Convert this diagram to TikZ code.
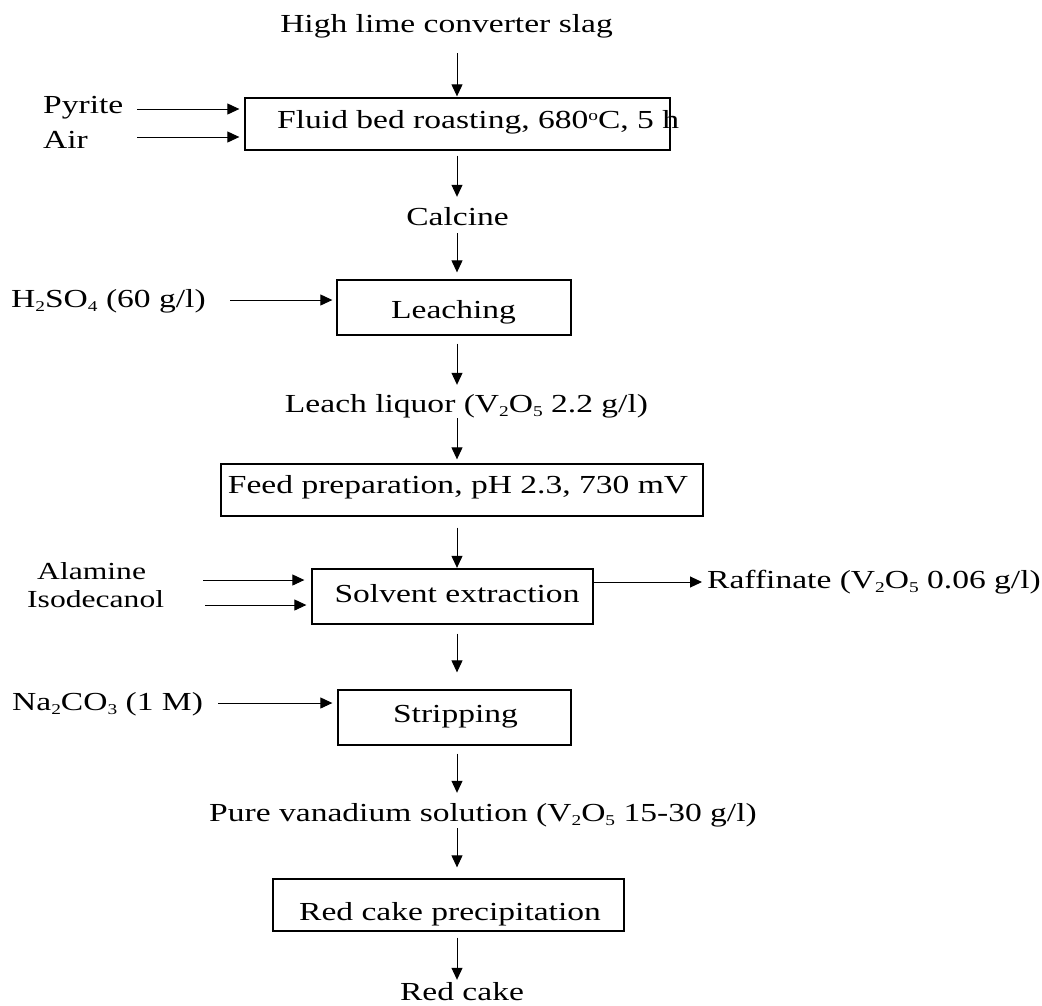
\documentclass[tikz,border=0pt]{standalone}
\usepackage{fontspec}
\setmainfont{Liberation Serif}[FakeStretch=1.29]
\usetikzlibrary{arrows.meta}
\newcommand\chsub[1]{\raisebox{-4pt}{\fontsize{15}{15}\selectfont #1}}
\newcommand\chsup[1]{\raisebox{8pt}{\fontsize{15}{15}\selectfont #1}}
\begin{document}
\begin{tikzpicture}[x=1pt,y=-1pt,
  lbl/.style={font=\fontsize{26}{30}\selectfont, inner sep=0pt, text height=17pt, text depth=5pt},
  smalllbl/.style={lbl, font=\fontsize{24.5}{28}\selectfont},
  box/.style={draw, line width=1.3pt, inner sep=0pt},
  arr/.style={-{Triangle[length=12pt,width=11pt]}, line width=1pt}]
\useasboundingbox (0,0) rectangle (1042,1005);
\coordinate (col) at (457,0);
% boxes
\node[box, minimum width=425pt, minimum height=52pt] (b1) at (457.5,124) {};
\node[box, minimum width=234pt, minimum height=55pt] (b2) at (454,307.5) {};
\node[box, minimum width=482pt, minimum height=52pt] (b3) at (462,490) {};
\node[box, minimum width=281pt, minimum height=55pt] (b4) at (452.5,596.5) {};
\node[box, minimum width=233pt, minimum height=55pt] (b5) at (454.5,717.5) {};
\node[box, minimum width=351pt, minimum height=52pt] (b6) at (448.5,905) {};
% box texts
\node[lbl, anchor=base west] (t1) at (277,128) {Fluid bed roasting, 680\chsup{o}C, 5 h};
\node[lbl, anchor=base] (t2) at (453.5,318) {Leaching};
\node[lbl, anchor=base] (t3) at (458,493) {Feed preparation, pH 2.3, 730 mV};
\node[lbl, anchor=base] (t4) at (457,602) {Solvent extraction};
\node[lbl, anchor=base] (t5) at (455.5,722) {Stripping};
\node[lbl, anchor=base] (t6) at (450,920) {Red cake precipitation};
% stream texts
\node[lbl, anchor=base] (title) at (446.5,32) {High lime converter slag};
\node[lbl, anchor=base] (calc) at (457.5,225) {Calcine};
\node[lbl, anchor=base] (liq) at (466.5,412) {Leach liquor (V\chsub{2}O\chsub{5} 2.2 g/l)};
\node[lbl, anchor=base] (pure) at (483,821) {Pure vanadium solution (V\chsub{2}O\chsub{5} 15-30 g/l)};
\node[lbl, anchor=base, text depth=1pt] (red) at (462,1000) {Red cake};
% side inputs
\node[lbl, anchor=base west] (pyr) at (43,113) {Pyrite};
\node[lbl, anchor=base west] (air) at (43,148) {Air};
\node[lbl, anchor=base west] (h2so4) at (11,307) {H\chsub{2}SO\chsub{4} (60 g/l)};
\node[smalllbl, anchor=base west, text depth=0.5pt, text height=16pt] (alam) at (37,579) {Alamine};
\node[smalllbl, anchor=base west, text height=16pt] (iso) at (27,607) {Isodecanol};
\node[lbl, anchor=base west] (na) at (12,710) {Na\chsub{2}CO\chsub{3} (1 M)};
\node[lbl, anchor=base west] (raff) at (707,588) {Raffinate (V\chsub{2}O\chsub{5} 0.06 g/l)};
% main vertical flow
\draw[arr, shorten <=16pt, shorten >=1pt] (title.south -| col) -- (b1.north -| col);
\draw[arr, shorten <=5pt, shorten >=11pt] (b1.south -| col) -- (calc.north -| col);
\draw[arr, shorten <=3pt, shorten >=7pt] (calc.south -| col) -- (b2.north -| col);
\draw[arr, shorten <=8pt, shorten >=10pt] (b2.south -| col) -- (liq.north -| col);
\draw[arr, shorten <=1pt, shorten >=4pt] (liq.south -| col) -- (b3.north -| col);
\draw[arr, shorten <=11pt, shorten >=0.5pt] (b3.south -| col) -- (b4.north -| col);
\draw[arr, shorten <=9pt, shorten >=17pt] (b4.south -| col) -- (b5.north -| col);
\draw[arr, shorten <=8pt, shorten >=11pt] (b5.south -| col) -- (pure.north -| col);
\draw[arr, shorten <=2pt, shorten >=11pt] (pure.south -| col) -- (b6.north -| col);
\draw[arr, shorten <=6pt, shorten >=3pt] (b6.south -| col) -- (red.north -| col);
% side arrows
\coordinate (pyA) at (137,109);
\coordinate (airA) at (137,137);
\coordinate (hA) at (230,300);
\coordinate (alA) at (203,580);
\coordinate (isA) at (205,605);
\coordinate (naA) at (218,703);
\coordinate (rfA) at (0,582);
\draw[arr, shorten >=5pt] (pyA) -- (pyA -| b1.west);
\draw[arr, shorten >=5pt] (airA) -- (airA -| b1.west);
\draw[arr, shorten >=4pt] (hA) -- (hA -| b2.west);
\draw[arr, shorten >=7pt] (alA) -- (alA -| b4.west);
\draw[arr, shorten >=5pt] (isA) -- (isA -| b4.west);
\draw[arr, shorten >=5pt] (naA) -- (naA -| b5.west);
\draw[arr, shorten >=5pt] (b4.east |- rfA) -- (raff.west |- rfA);
\end{tikzpicture}
\end{document}
